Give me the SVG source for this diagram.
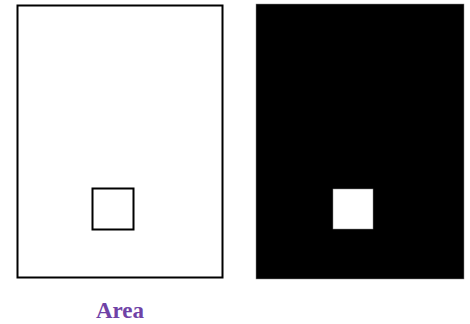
<svg xmlns="http://www.w3.org/2000/svg" width="470" height="324" viewBox="0 0 470 324">
<style>
.outline{fill:#fff;stroke:#000;stroke-width:2}
.label{font-family:"Liberation Serif",serif;font-size:23px;font-weight:bold;fill:#6f42a6;text-anchor:middle}
</style>
<rect width="470" height="324" fill="#fff"/>
<g id="left-panel">
<rect class="outline" x="17.5" y="5.5" width="205" height="272"/>
<rect class="outline" x="92.5" y="188.5" width="41" height="41"/>
</g>
<g id="right-panel">
<rect x="256" y="4" width="208" height="275" fill="#000" stroke="#888" stroke-width="0.5"/>
<rect x="333" y="189" width="40" height="40" fill="#fff" stroke="#888" stroke-width="0.5"/>
</g>
<g id="caption">
<text class="label" x="120" y="318">Area</text>
</g>
</svg>
